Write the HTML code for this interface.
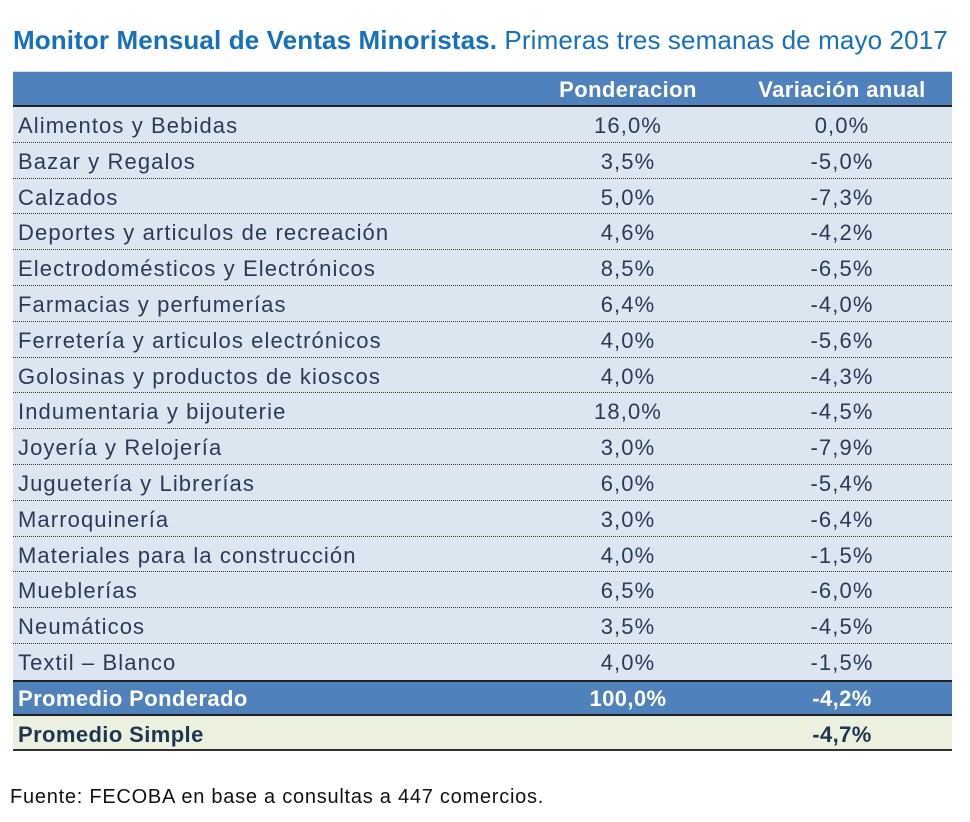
<!DOCTYPE html>
<html><head><meta charset="utf-8"><style>
body{margin:0;width:970px;height:822px;background:#fff;position:relative;font-family:"Liberation Sans",sans-serif;overflow:hidden}
.t{position:absolute;left:13px;top:25px;font-size:26px;letter-spacing:0.12px;color:#1570bd;white-space:nowrap}
.tbl{position:absolute;left:13px;top:71px;width:939px}
.r{position:relative;height:35.8px;background:#dce6f1;border-bottom:1.5px dotted #333;box-sizing:border-box;color:#2b3b55;font-size:22px;letter-spacing:1.1px}
.r span{position:absolute;top:6px;white-space:nowrap}
.a{left:5px}.b i,.c i{font-style:normal;position:absolute;transform:translateX(-50%)}
.b{left:615px;width:0}
.c{left:829px;width:0}
.h{height:36px;background:#4f81bd;border-bottom:2px solid #222;color:#fff;font-weight:bold;border-top:1px solid #ddd}
.h span{top:5px}
.p{background:#4f81bd;color:#fff;font-weight:bold;border-top:2px solid #222;border-bottom:2px solid #222;letter-spacing:0.4px}
.p span{top:4px}
.s{background:#ebf1de;color:#1f3550;font-weight:bold;border-bottom:2px solid #333;letter-spacing:0.4px}
.s span{top:6px}
.f{position:absolute;left:10px;top:786px;font-size:20px;letter-spacing:0.75px;color:#111}
</style></head><body>
<div class="t"><b>Monitor Mensual de Ventas Minoristas.</b> Primeras tres semanas de mayo 2017</div>
<div class="tbl">
<div class="r h" style="letter-spacing:0.4px"><span class="b"><i>Ponderacion</i></span><span class="c"><i>Variación anual</i></span></div>
<div class="r"><span class="a">Alimentos y Bebidas</span><span class="b"><i>16,0%</i></span><span class="c"><i>0,0%</i></span></div>
<div class="r"><span class="a">Bazar y Regalos</span><span class="b"><i>3,5%</i></span><span class="c"><i>-5,0%</i></span></div>
<div class="r"><span class="a">Calzados</span><span class="b"><i>5,0%</i></span><span class="c"><i>-7,3%</i></span></div>
<div class="r"><span class="a">Deportes y articulos de recreación</span><span class="b"><i>4,6%</i></span><span class="c"><i>-4,2%</i></span></div>
<div class="r"><span class="a">Electrodomésticos y Electrónicos</span><span class="b"><i>8,5%</i></span><span class="c"><i>-6,5%</i></span></div>
<div class="r"><span class="a">Farmacias y perfumerías</span><span class="b"><i>6,4%</i></span><span class="c"><i>-4,0%</i></span></div>
<div class="r"><span class="a">Ferretería y articulos electrónicos</span><span class="b"><i>4,0%</i></span><span class="c"><i>-5,6%</i></span></div>
<div class="r"><span class="a">Golosinas y productos de kioscos</span><span class="b"><i>4,0%</i></span><span class="c"><i>-4,3%</i></span></div>
<div class="r"><span class="a">Indumentaria y bijouterie</span><span class="b"><i>18,0%</i></span><span class="c"><i>-4,5%</i></span></div>
<div class="r"><span class="a">Joyería y Relojería</span><span class="b"><i>3,0%</i></span><span class="c"><i>-7,9%</i></span></div>
<div class="r"><span class="a">Juguetería y Librerías</span><span class="b"><i>6,0%</i></span><span class="c"><i>-5,4%</i></span></div>
<div class="r"><span class="a">Marroquinería</span><span class="b"><i>3,0%</i></span><span class="c"><i>-6,4%</i></span></div>
<div class="r"><span class="a">Materiales para la construcción</span><span class="b"><i>4,0%</i></span><span class="c"><i>-1,5%</i></span></div>
<div class="r"><span class="a">Mueblerías</span><span class="b"><i>6,5%</i></span><span class="c"><i>-6,0%</i></span></div>
<div class="r"><span class="a">Neumáticos</span><span class="b"><i>3,5%</i></span><span class="c"><i>-4,5%</i></span></div>
<div class="r" style="border-bottom:none"><span class="a">Textil – Blanco</span><span class="b"><i>4,0%</i></span><span class="c"><i>-1,5%</i></span></div>
<div class="r p"><span class="a">Promedio Ponderado</span><span class="b"><i>100,0%</i></span><span class="c"><i>-4,2%</i></span></div>
<div class="r s"><span class="a">Promedio Simple</span><span class="c"><i>-4,7%</i></span></div>
</div>
<div class="f">Fuente: FECOBA en base a consultas a 447 comercios.</div>
</body></html>
